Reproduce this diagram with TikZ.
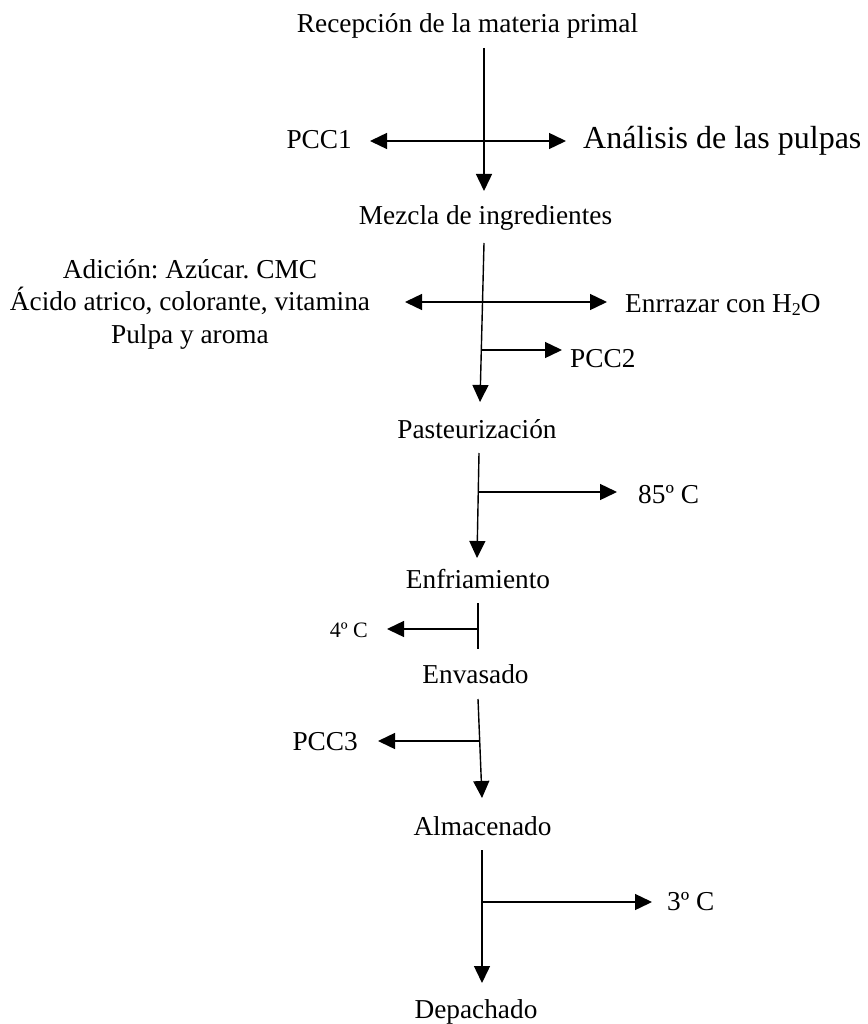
\documentclass[tikz,border=0pt]{standalone}
\usepackage{fontspec}
\setmainfont{Liberation Serif}
\usetikzlibrary{arrows.meta}
\frenchspacing
\newcommand{\lowsub}[1]{\raisebox{-0.3ex}{\fontsize{18}{20}\selectfont #1}}
\begin{document}
\begin{tikzpicture}[x=1pt,y=-1pt,
  lbl/.style={inner sep=0pt, font=\fontsize{27.3}{32.5}\selectfont},
  big/.style={inner sep=0pt, font=\fontsize{32}{36}\selectfont},
  small/.style={inner sep=0pt, font=\fontsize{22}{26}\selectfont},
  flow/.style={line width=1.4pt, -{Triangle[length=17pt,width=16pt]}},
  plain/.style={line width=1.4pt}]
\useasboundingbox (0,0) rectangle (867,1024);

% process steps
\node[lbl,anchor=base] (rec) at (467.5,33) {Recepción de la materia primal};
\node[lbl,anchor=base] (mez) at (485.5,225) {Mezcla de ingredientes};
\node[lbl,anchor=base] (pas) at (477,438) {Pasteurización};
\node[lbl,anchor=base] (enf) at (478,588) {Enfriamiento};
\node[lbl,anchor=base] (env) at (475.5,683) {Envasado};
\node[lbl,anchor=base] (alm) at (482.5,835) {Almacenado};
\node[lbl,anchor=base] (dep) at (476,1018) {Depachado};

% side notes
\node[lbl,anchor=base east] (pcc1) at (352,149) {PCC1};
\node[big,anchor=base west] (ana) at (583,149) {Análisis de las pulpas};
\node[lbl,anchor=center,align=center] (adi) at (190,304)
  {Adición: Azúcar. CMC\\Ácido atrico, colorante, vitamina\\Pulpa y aroma};
\node[lbl,anchor=base west] (enr) at (625,312) {Enrrazar con H\lowsub{2}O};
\node[lbl,anchor=base west] (pcc2) at (570,367) {PCC2};
\node[lbl,anchor=base west] (c85) at (638,503) {85º C};
\node[small,anchor=base east] (c4) at (368,637) {4º C};
\node[lbl,anchor=base east] (pcc3) at (358,750) {PCC3};
\node[lbl,anchor=base west] (c3) at (667,910) {3º C};

% connector end points
\coordinate (v1s) at (484,48);   \coordinate (v1e) at (484,191);
\coordinate (x1)  at (484,141);  \coordinate (p1l) at (370,141);  \coordinate (p1r) at (566,141);
\coordinate (v2s) at (484,243);  \coordinate (v2e) at (480,402);
\coordinate (x2)  at (482.5,302);\coordinate (p2l) at (405,302);  \coordinate (p2r) at (607,302);
\coordinate (x2b) at (481,350);  \coordinate (p2b) at (562,350);
\coordinate (v3s) at (479,453);  \coordinate (v3e) at (477,558);
\coordinate (x3)  at (478.5,492);\coordinate (p3)  at (617,492);
\coordinate (v4s) at (478,603);  \coordinate (v4e) at (478,649);
\coordinate (x4)  at (478,629);  \coordinate (p4)  at (387,629);
\coordinate (v5s) at (478,699);  \coordinate (v5e) at (482,798);
\coordinate (x5)  at (479.7,741);\coordinate (p5)  at (378,741);
\coordinate (v6s) at (482,850);  \coordinate (v6e) at (482,983);
\coordinate (x6)  at (482,902);  \coordinate (p6)  at (652,902);

% main flow
\draw[flow] (v1s) -- (v1e);
\draw[flow] (v2s) -- (v2e);
\draw[flow] (v3s) -- (v3e);
\draw[plain] (v4s) -- (v4e);
\draw[flow] (v5s) -- (v5e);
\draw[flow] (v6s) -- (v6e);

% branches
\draw[flow] (x1) -- (p1l);
\draw[flow] (x1) -- (p1r);
\draw[flow] (x2) -- (p2l);
\draw[flow] (x2) -- (p2r);
\draw[flow] (x2b) -- (p2b);
\draw[flow] (x3) -- (p3);
\draw[flow] (x4) -- (p4);
\draw[flow] (x5) -- (p5);
\draw[flow] (x6) -- (p6);
\end{tikzpicture}
\end{document}
